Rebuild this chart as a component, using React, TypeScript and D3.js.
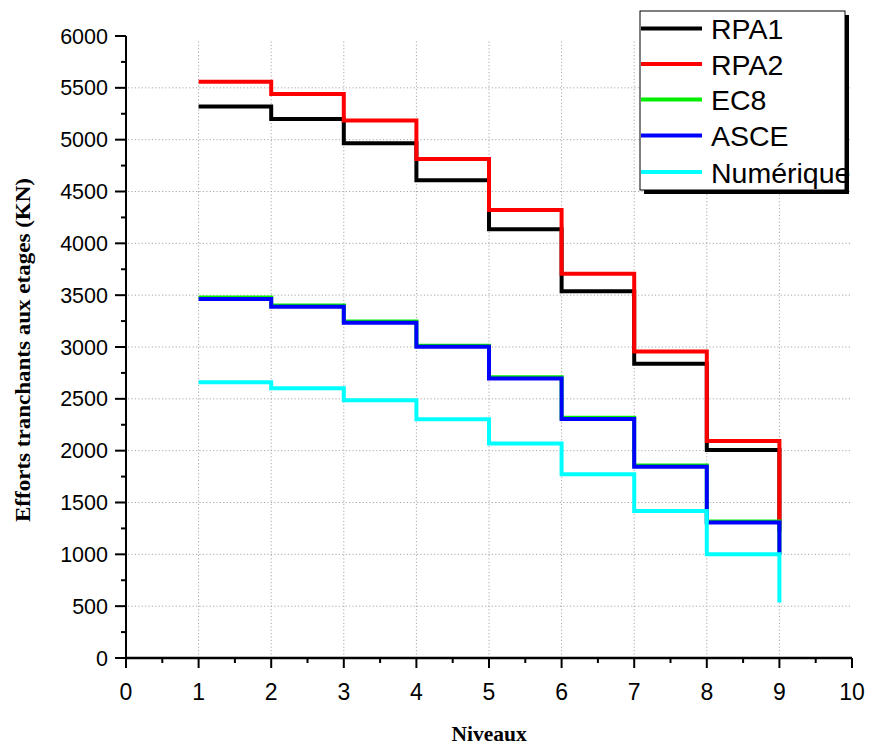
import React from "react";
import * as d3 from "d3";

// Storey levels and shear force per level (kN) for each method
const levels = [1, 2, 3, 4, 5, 6, 7, 8, 9];
const rpa1 = [5320, 5200, 4965, 4608, 4137, 3537, 2838, 2006, 1220];
const rpa2 = [5558, 5440, 5185, 4813, 4321, 3706, 2957, 2094, 1290];
const ec8 = [3478, 3400, 3247, 3013, 2708, 2317, 1856, 1316, 1000];
const asce = [3462, 3388, 3235, 3002, 2697, 2306, 1846, 1306, 1000];
const numerique = [2660, 2601, 2487, 2303, 2070, 1773, 1417, 1002, 535];

const seriesNames = ["RPA1", "RPA2", "EC8", "ASCE", "Numérique"];
const seriesValues = [rpa1, rpa2, ec8, asce, numerique];
const seriesColors = ["#000000", "#ff0000", "#00ee00", "#0000ff", "#00ffff"];

const xTicks = [0, 1, 2, 3, 4, 5, 6, 7, 8, 9, 10];
const yTicks = [0, 500, 1000, 1500, 2000, 2500, 3000, 3500, 4000, 4500, 5000, 5500, 6000];

const W = 869;
const H = 747;
const left = 126;
const right = 852;
const top = 36;
const bottom = 658;

export default function App() {
  const x = d3.scaleLinear().domain([0, 10]).range([left, right]);
  const y = d3.scaleLinear().domain([0, 6000]).range([bottom, top]);

  const line = d3
    .line<[number, number]>()
    .x((d) => x(d[0]))
    .y((d) => y(d[1]))
    .curve(d3.curveStepAfter);

  const xMinor = d3.range(0.5, 10, 1);
  const yMinor = d3.range(250, 6000, 500);
  const sans = "'Liberation Sans', Arial, sans-serif";
  const serif = "'Liberation Serif', 'Times New Roman', serif";

  const legX = 640;
  const legY = 11;
  const legW = 205;
  const legH = 179;
  const rowY = [28.5, 64, 99.5, 135.5, 172];

  return (
    <svg
      width={W}
      height={H}
      style={{ position: "absolute", left: 0, top: 0, background: "#fff" }}
    >
      <rect x={0} y={0} width={W} height={H} fill="#fff" />

      {/* dotted grid */}
      <g stroke="#a8a8a8" strokeWidth={1} strokeDasharray="1.2 2.2">
        {yTicks
          .filter((t) => t > 0 && t < 6000)
          .map((t) => (
            <line key={"gy" + t} x1={left + 2} x2={right} y1={y(t)} y2={y(t)} />
          ))}
        {xTicks
          .filter((t) => t > 0 && t < 10)
          .map((t) => (
            <line key={"gx" + t} x1={x(t)} x2={x(t)} y1={bottom} y2={top + 4} />
          ))}
      </g>

      {/* step curves */}
      <g fill="none" strokeWidth={4} strokeLinejoin="miter" strokeLinecap="butt">
        {seriesValues.map((vals, i) => (
          <path
            key={seriesNames[i]}
            d={line(levels.map((l, j) => [l, vals[j]] as [number, number])) || ""}
            stroke={seriesColors[i]}
          />
        ))}
      </g>

      {/* y axis */}
      <g stroke="#000">
        <line x1={left} x2={left} y1={top} y2={bottom + 10} strokeWidth={2} />
        {yTicks.map((t) => (
          <line key={"yt" + t} x1={left - 11} x2={left} y1={y(t)} y2={y(t)} strokeWidth={2} />
        ))}
        {yMinor.map((t) => (
          <line key={"ym" + t} x1={left - 5} x2={left} y1={y(t)} y2={y(t)} strokeWidth={2} />
        ))}
      </g>
      <g fontFamily={sans} fontSize={21.5} textAnchor="end" fill="#000">
        {yTicks.map((t) => (
          <text key={"yl" + t} x={108} y={y(t) + 7.5}>
            {t}
          </text>
        ))}
      </g>

      {/* x axis */}
      <g stroke="#000">
        <line x1={left} x2={right} y1={bottom} y2={bottom} strokeWidth={2.5} />
        {xTicks.map((t) => (
          <line key={"xt" + t} x1={x(t)} x2={x(t)} y1={bottom} y2={bottom + 10} strokeWidth={2} />
        ))}
        {xMinor.map((t) => (
          <line key={"xm" + t} x1={x(t)} x2={x(t)} y1={bottom} y2={bottom + 5} strokeWidth={2} />
        ))}
      </g>
      <g fontFamily={sans} fontSize={23} textAnchor="middle" fill="#000">
        {xTicks.map((t) => (
          <text key={"xl" + t} x={x(t)} y={700}>
            {t}
          </text>
        ))}
      </g>

      {/* axis titles */}
      <text
        x={(left + right) / 2}
        y={741}
        textAnchor="middle"
        fontFamily={serif}
        fontWeight="bold"
        fontSize={21.5}
      >
        Niveaux
      </text>
      <text
        transform="translate(30,350) rotate(-90)"
        textAnchor="middle"
        fontFamily={serif}
        fontWeight="bold"
        fontSize={21}
        textLength={344}
        lengthAdjust="spacingAndGlyphs"
      >
        Efforts tranchants aux etages (KN)
      </text>

      {/* legend */}
      <rect x={legX + 4} y={legY + 4} width={legW} height={legH} fill="#000" />
      <rect x={legX} y={legY} width={legW} height={legH} fill="#fff" stroke="#000" strokeWidth={1} />
      {seriesNames.map((name, i) => (
        <g key={"lg" + name}>
          <line
            x1={legX + 1}
            x2={702}
            y1={rowY[i]}
            y2={rowY[i]}
            stroke={seriesColors[i]}
            strokeWidth={4}
          />
          <text x={711} y={rowY[i] + 10.5} fontFamily={sans} fontSize={28.5} fill="#000">
            {name}
          </text>
        </g>
      ))}
    </svg>
  );
}
